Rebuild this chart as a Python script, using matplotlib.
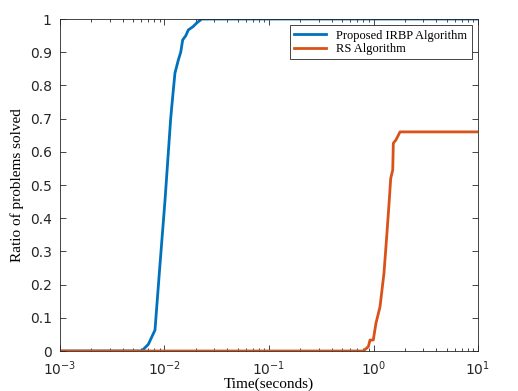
import numpy as np
import matplotlib.pyplot as plt
from matplotlib.ticker import LogLocator, FixedLocator

# performance profile data
irbp_t = [1e-3, 0.0058, 0.00605, 0.0070, 0.00811, 0.0090, 0.01012, 0.01146, 0.01198,
          0.01259, 0.01355, 0.01430, 0.01493, 0.01600, 0.01690, 0.01875, 0.02034, 0.0227, 10.0]
irbp_r = [0.0, 0.0, 0.0, 0.02, 0.063, 0.25, 0.455, 0.70, 0.766,
          0.837, 0.876, 0.90, 0.937, 0.95, 0.967, 0.977, 0.988, 1.0, 1.0]

rs_t = [1e-3, 0.799, 0.892, 0.926, 0.995, 1.056, 1.154, 1.260, 1.337,
        1.416, 1.461, 1.527, 1.548, 1.642, 1.794, 10.0]
rs_r = [0.0, 0.0, 0.013, 0.033, 0.033, 0.084, 0.133, 0.235, 0.344,
        0.455, 0.52, 0.545, 0.626, 0.636, 0.66, 0.66]

fig = plt.figure(figsize=(5.18, 3.91), dpi=100)
ax = fig.add_axes([0.1158, 0.1023, 0.807, 0.8491])

ax.plot(irbp_t, irbp_r, color='#0072BD', lw=2, label='Proposed IRBP Algorithm')
ax.plot(rs_t, rs_r, color='#D95319', lw=2, label='RS Algorithm')

ax.set_xscale('log')
ax.set_xlim(1e-3, 10)
ax.set_ylim(0, 1)
ax.yaxis.set_major_locator(FixedLocator(np.arange(0, 1.01, 0.1)))
ax.set_yticklabels(['0', '0.1', '0.2', '0.3', '0.4', '0.5', '0.6', '0.7', '0.8', '0.9', '1'])
ax.xaxis.set_major_locator(LogLocator(base=10, numticks=10))
ax.xaxis.set_minor_locator(LogLocator(base=10, subs=np.arange(2, 10), numticks=10))

ax.tick_params(which='both', direction='in', top=True, right=True,
               labelsize=10, colors='#262626', width=0.6)
ax.tick_params(which='major', length=4)
ax.tick_params(which='minor', length=2)
ax.tick_params(axis='x', which='major', pad=6)
ax.tick_params(axis='y', which='major', pad=6)
for s in ax.spines.values():
    s.set_color('#262626')
    s.set_linewidth(0.6)

serif = ['Liberation Serif', 'DejaVu Serif']
ax.set_xlabel('Time(seconds)', family=serif, fontsize=11, labelpad=0)
ax.set_ylabel('Ratio of problems solved', family=serif, fontsize=11)

leg = ax.legend(loc='upper right', prop={'family': serif, 'size': 9},
                fancybox=False, edgecolor='#262626', framealpha=1,
                borderaxespad=0.5, handlelength=2.6, labelspacing=0.1,
                borderpad=0.35)
leg.get_frame().set_linewidth(0.6)

fig.savefig('out.png', dpi=100)
